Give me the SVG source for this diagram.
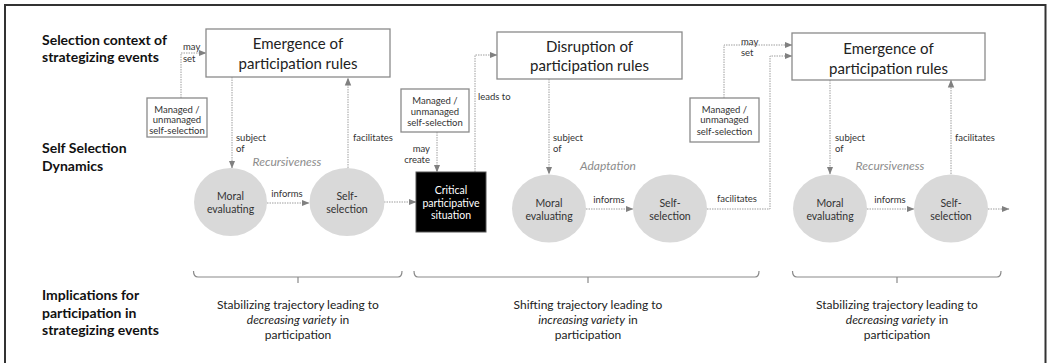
<svg xmlns="http://www.w3.org/2000/svg" width="1048" height="363" viewBox="0 0 1048 363">
  <style>
    text { font-family: Lato, "Liberation Sans", sans-serif; fill: #333; }
    .row { font-size: 14px; font-weight: bold; fill: #111; }
    .title { font-size: 15px; text-anchor: middle; fill: #222; }
    .small { font-size: 9.5px; text-anchor: middle; fill: #333; }
    .lbl { font-size: 9.5px; fill: #333; }
    .node { font-size: 10.5px; text-anchor: middle; fill: #333; }
    .phase { font-size: 12px; font-style: italic; text-anchor: middle; fill: #8c8c8c; }
    .impl { font-size: 12px; text-anchor: middle; fill: #222; }
    .box { fill: #fff; stroke: #8a8a8a; stroke-width: 1.3; }
    .circ { fill: #d9d9d9; }
    .link { fill: none; stroke: #9e9e9e; stroke-width: 1; stroke-dasharray: 1.5 1; }
    .brace { fill: none; stroke: #8a8a8a; stroke-width: 1.2; }
  </style>
  <defs>
    <marker id="arr" viewBox="0 0 8 8" refX="7.5" refY="4" markerWidth="8" markerHeight="8" markerUnits="userSpaceOnUse" orient="auto">
      <path d="M0,0.8 L8,4 L0,7.2 Z" fill="#808080"/>
    </marker>
  </defs>

  <rect x="0" y="0" width="1048" height="363" fill="#fff"/>
  <!-- frame: open at the bottom edge -->
  <rect x="5" y="5" width="1040.5" height="380" fill="none" stroke="#333" stroke-width="2"/>

  <!-- row headings -->
  <g id="row-headings">
    <text class="row" x="42" y="45">Selection context of</text>
    <text class="row" x="42" y="62">strategizing events</text>
    <text class="row" x="42" y="153">Self Selection</text>
    <text class="row" x="42" y="171">Dynamics</text>
    <text class="row" x="42" y="300">Implications for</text>
    <text class="row" x="42" y="318">participation in</text>
    <text class="row" x="42" y="335">strategizing events</text>
  </g>

  <!-- connectors -->
  <g id="connectors">
    <path class="link" d="M181,98 V53 H206" marker-end="url(#arr)"/>
    <path class="link" d="M232,77 V168" marker-end="url(#arr)"/>
    <path class="link" d="M348,168 V78" marker-end="url(#arr)"/>
    <path class="link" d="M267,203 H309" marker-end="url(#arr)"/>
    <path class="link" d="M384,202 H416" marker-end="url(#arr)"/>
    <path class="link" d="M437,132 V172" marker-end="url(#arr)"/>
    <path class="link" d="M475,172 V55 H497" marker-end="url(#arr)"/>
    <path class="link" d="M549,79 V174" marker-end="url(#arr)"/>
    <path class="link" d="M586,209 H633" marker-end="url(#arr)"/>
    <path class="link" d="M707,209 H770 V56 H792" marker-end="url(#arr)"/>
    <path class="link" d="M724,98 V45 H792" marker-end="url(#arr)"/>
    <path class="link" d="M830,80 V174" marker-end="url(#arr)"/>
    <path class="link" d="M951,174 V80" marker-end="url(#arr)"/>
    <path class="link" d="M867,209 H914" marker-end="url(#arr)"/>
    <path class="link" d="M988,209 H1009" marker-end="url(#arr)"/>

    <text class="lbl" x="183" y="50">may</text>
    <text class="lbl" x="183" y="62">set</text>
    <text class="lbl" x="236" y="140.5">subject</text>
    <text class="lbl" x="236" y="151.5">of</text>
    <text class="lbl" x="353" y="140.5">facilitates</text>
    <text class="lbl" x="287" y="196.5" text-anchor="middle">informs</text>
    <text class="lbl" x="430" y="151.5" text-anchor="end">may</text>
    <text class="lbl" x="430" y="162.5" text-anchor="end">create</text>
    <text class="lbl" x="478" y="99.5">leads to</text>
    <text class="lbl" x="553" y="140.5">subject</text>
    <text class="lbl" x="553" y="151.5">of</text>
    <text class="lbl" x="609" y="202.5" text-anchor="middle">informs</text>
    <text class="lbl" x="737" y="201.5" text-anchor="middle">facilitates</text>
    <text class="lbl" x="741" y="44.5">may</text>
    <text class="lbl" x="741" y="56">set</text>
    <text class="lbl" x="835" y="140.5">subject</text>
    <text class="lbl" x="835" y="151.5">of</text>
    <text class="lbl" x="955" y="140.5">facilitates</text>
    <text class="lbl" x="890" y="202.5" text-anchor="middle">informs</text>
  </g>

  <!-- phase labels -->
  <text class="phase" x="287" y="166">Recursiveness</text>
  <text class="phase" x="608" y="170">Adaptation</text>
  <text class="phase" x="890" y="170">Recursiveness</text>

  <!-- context boxes -->
  <g id="emergence-1">
    <rect class="box" x="206" y="29" width="184" height="48"/>
    <text class="title" x="298" y="48.5">Emergence of</text>
    <text class="title" x="298" y="68.5">participation rules</text>
  </g>
  <g id="disruption">
    <rect class="box" x="497" y="32" width="185" height="47"/>
    <text class="title" x="589.5" y="51.5">Disruption of</text>
    <text class="title" x="589.5" y="70.5">participation rules</text>
  </g>
  <g id="emergence-2">
    <rect class="box" x="792" y="33" width="193" height="47"/>
    <text class="title" x="888.5" y="53.5">Emergence of</text>
    <text class="title" x="888.5" y="73.5">participation rules</text>
  </g>

  <!-- managed / unmanaged boxes -->
  <g id="managed-1">
    <rect class="box" x="147" y="98" width="60" height="39"/>
    <text class="small" x="177" y="112.5">Managed /</text>
    <text class="small" x="177" y="123">unmanaged</text>
    <text class="small" x="177" y="134">self-selection</text>
  </g>
  <g id="managed-2">
    <rect class="box" x="401" y="89" width="68" height="43"/>
    <text class="small" x="435" y="103.5">Managed /</text>
    <text class="small" x="435" y="114.5">unmanaged</text>
    <text class="small" x="435" y="125.5">self-selection</text>
  </g>
  <g id="managed-3">
    <rect class="box" x="690" y="98" width="69" height="44"/>
    <text class="small" x="724.5" y="112.5">Managed /</text>
    <text class="small" x="724.5" y="123">unmanaged</text>
    <text class="small" x="724.5" y="134.5">self-selection</text>
  </g>

  <!-- self-selection dynamics -->
  <g id="moral-1">
    <ellipse class="circ" cx="230.5" cy="202" rx="36.5" ry="34"/>
    <text class="node" x="230.5" y="199.5">Moral</text>
    <text class="node" x="230.5" y="212.5">evaluating</text>
  </g>
  <g id="self-1">
    <ellipse class="circ" cx="347" cy="202" rx="37.5" ry="34"/>
    <text class="node" x="347" y="199.5">Self-</text>
    <text class="node" x="347" y="212.5">selection</text>
  </g>
  <g id="critical">
    <rect x="416" y="172" width="70" height="60" fill="#000" stroke="#555" stroke-width="1"/>
    <text class="node" x="451" y="193.5" style="fill:#fff">Critical</text>
    <text class="node" x="451" y="206.5" style="fill:#fff">participative</text>
    <text class="node" x="451" y="219" style="fill:#fff">situation</text>
  </g>
  <g id="moral-2">
    <ellipse class="circ" cx="549" cy="208.5" rx="37" ry="34"/>
    <text class="node" x="549" y="206.5">Moral</text>
    <text class="node" x="549" y="219.5">evaluating</text>
  </g>
  <g id="self-2">
    <ellipse class="circ" cx="670" cy="208.5" rx="37" ry="34"/>
    <text class="node" x="670" y="206.5">Self-</text>
    <text class="node" x="670" y="219.5">selection</text>
  </g>
  <g id="moral-3">
    <ellipse class="circ" cx="830" cy="208.5" rx="37" ry="34"/>
    <text class="node" x="830" y="206.5">Moral</text>
    <text class="node" x="830" y="219.5">evaluating</text>
  </g>
  <g id="self-3">
    <ellipse class="circ" cx="951" cy="208.5" rx="37" ry="34"/>
    <text class="node" x="951" y="206.5">Self-</text>
    <text class="node" x="951" y="219.5">selection</text>
  </g>

  <!-- braces and implications -->
  <g id="implication-1">
    <path class="brace" d="M193.5,271 Q193.5,277 198,277 H398 Q402,277 402,271 M298,277 V283"/>
    <text class="impl" x="298" y="309">Stabilizing trajectory leading to</text>
    <text class="impl" x="298" y="324"><tspan font-style="italic">decreasing variety</tspan> in</text>
    <text class="impl" x="298" y="339">participation</text>
  </g>
  <g id="implication-2">
    <path class="brace" d="M414,271 Q414,277 418,277 H755 Q759,277 759,271 M588,277 V283"/>
    <text class="impl" x="588" y="309">Shifting trajectory leading to</text>
    <text class="impl" x="588" y="324"><tspan font-style="italic">increasing variety</tspan> in</text>
    <text class="impl" x="588" y="339">participation</text>
  </g>
  <g id="implication-3">
    <path class="brace" d="M792.5,271 Q792.5,277 797,277 H997 Q1001,277 1001,271 M897,277 V283"/>
    <text class="impl" x="897" y="309">Stabilizing trajectory leading to</text>
    <text class="impl" x="897" y="324"><tspan font-style="italic">decreasing variety</tspan> in</text>
    <text class="impl" x="897" y="339">participation</text>
  </g>
</svg>
